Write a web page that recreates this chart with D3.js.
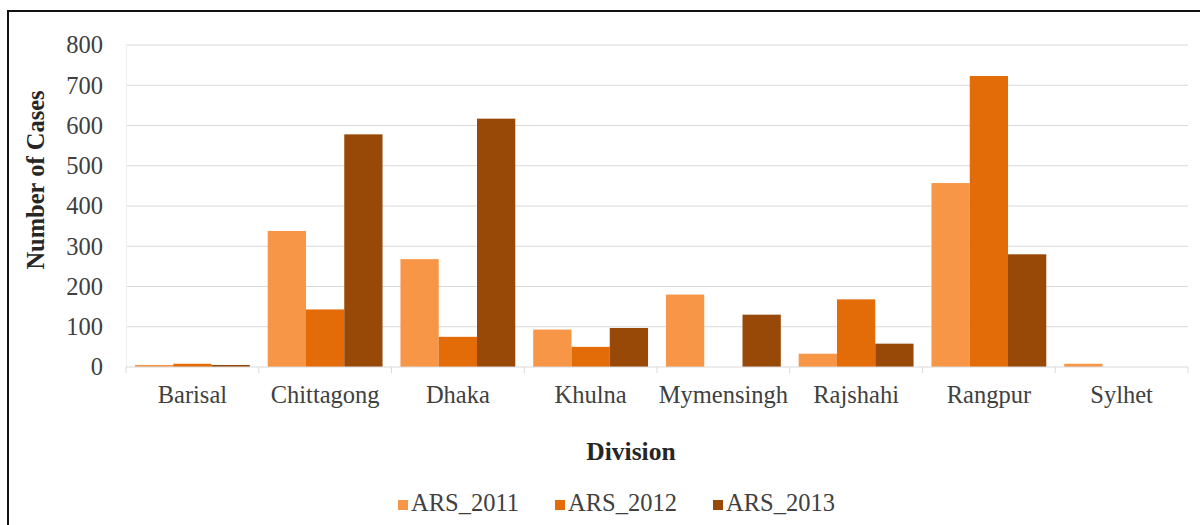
<!DOCTYPE html>
<html>
<head>
<meta charset="utf-8">
<script src="https://cdn.jsdelivr.net/npm/d3@7"></script>
<style>
  html, body { margin: 0; padding: 0; background: #fff; }
  svg { display: block; }
</style>
</head>
<body>
<svg id="chart" width="1200" height="525"></svg>
<script>
// Reported cases per division, by year
const divisions = ["Barisal", "Chittagong", "Dhaka", "Khulna", "Mymensingh", "Rajshahi", "Rangpur", "Sylhet"];
const seriesNames = ["ARS_2011", "ARS_2012", "ARS_2013"];
const ars2011 = [5, 338, 268, 93, 180, 33, 457, 8];
const ars2012 = [8, 143, 75, 50, 0, 168, 723, 0];
const ars2013 = [5, 578, 617, 97, 130, 58, 280, 0];
const yTicks = [0, 100, 200, 300, 400, 500, 600, 700, 800];
const colors = ["#F79646", "#E36C09", "#984807"];

const seriesValues = [ars2011, ars2012, ars2013];
const rows = divisions.map((d, i) => ({
  division: d,
  values: seriesNames.map((s, k) => ({ key: s, value: seriesValues[k][i], idx: k }))
}));

const svg = d3.select("#chart");
const font = "'Liberation Serif', 'Times New Roman', serif";
const fs = 24.5;

// outer frame
svg.append("rect")
  .attr("x", 8).attr("y", 11).attr("width", 1210).attr("height", 530)
  .attr("fill", "none").attr("stroke", "#111").attr("stroke-width", 2);

const plot = { left: 126, right: 1188, top: 45, bottom: 367 };

const x = d3.scaleBand().domain(divisions).range([plot.left, plot.right]).paddingInner(0.135).paddingOuter(0.0675);
const xBand = d3.scaleBand().domain(divisions).range([plot.left, plot.right]);
const xSub = d3.scaleBand().domain(seriesNames).range([0, x.bandwidth()]);
const y = d3.scaleLinear().domain([0, 800]).range([plot.bottom, plot.top]);

// gridlines
svg.append("g")
  .selectAll("line")
  .data(yTicks.slice(1))
  .join("line")
  .attr("x1", plot.left).attr("x2", plot.right)
  .attr("y1", d => y(d)).attr("y2", d => y(d))
  .attr("stroke", "#d9d9d9").attr("stroke-width", 1.2);

// y axis labels
const yAxis = d3.axisLeft(y).tickValues(yTicks).tickSize(0).tickPadding(23);
const gy = svg.append("g").attr("transform", `translate(${plot.left},0)`).call(yAxis);
gy.select(".domain").attr("stroke", "#eeeeee");
gy.selectAll("text").attr("font-family", font).attr("font-size", fs).attr("fill", "#404040");

// bars
const groups = svg.append("g").selectAll("g")
  .data(rows)
  .join("g")
  .attr("transform", d => `translate(${x(d.division)},0)`);

groups.selectAll("rect")
  .data(d => d.values)
  .join("rect")
  .attr("x", d => xSub(d.key))
  .attr("width", xSub.bandwidth())
  .attr("y", d => y(d.value))
  .attr("height", d => y(0) - y(d.value))
  .attr("fill", d => colors[d.idx]);

// x axis with ticks at category boundaries
const gx = svg.append("g").attr("transform", `translate(0,${plot.bottom})`);
gx.append("line")
  .attr("x1", plot.left).attr("x2", plot.right)
  .attr("stroke", "#d9d9d9").attr("stroke-width", 1.2);
gx.selectAll("line.tick")
  .data(divisions.map(d => xBand(d)).concat([plot.right]))
  .join("line")
  .attr("class", "tick")
  .attr("x1", d => d).attr("x2", d => d)
  .attr("y1", 0).attr("y2", 6)
  .attr("stroke", "#d9d9d9");
gx.selectAll("text")
  .data(divisions)
  .join("text")
  .attr("x", d => xBand(d) + xBand.bandwidth() / 2)
  .attr("y", 36)
  .attr("text-anchor", "middle")
  .attr("font-family", font).attr("font-size", fs).attr("fill", "#404040")
  .text(d => d);

// axis titles
svg.append("text")
  .attr("transform", "translate(44,180) rotate(-90)")
  .attr("text-anchor", "middle")
  .attr("font-family", font).attr("font-size", fs).attr("font-weight", "bold").attr("fill", "#262626")
  .text("Number of Cases");

svg.append("text")
  .attr("x", 631).attr("y", 460)
  .attr("text-anchor", "middle")
  .attr("font-family", font).attr("font-size", 25.5).attr("font-weight", "bold").attr("fill", "#262626")
  .text("Division");

// legend
const legendX = [398, 555, 713];
const legend = svg.append("g").selectAll("g")
  .data(seriesNames)
  .join("g")
  .attr("transform", (d, i) => `translate(${legendX[i]},511)`);
legend.append("rect")
  .attr("x", 0).attr("y", -11).attr("width", 10).attr("height", 10)
  .attr("fill", (d, i) => colors[i]);
legend.append("text")
  .attr("x", 13).attr("y", 0)
  .attr("font-family", font).attr("font-size", fs).attr("fill", "#404040")
  .text(d => d);
</script>
</body>
</html>
